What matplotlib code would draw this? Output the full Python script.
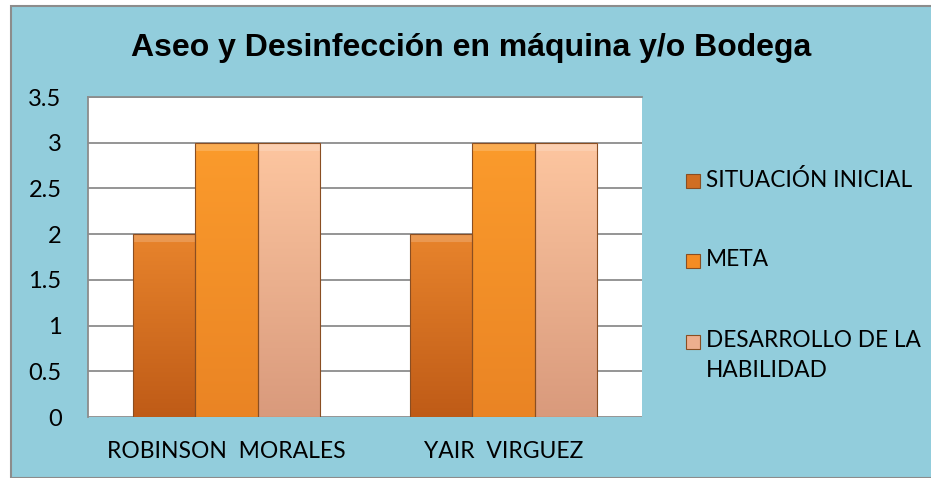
import matplotlib
matplotlib.use("Agg")
import matplotlib.pyplot as plt
import numpy as np
from matplotlib.patches import Rectangle
from matplotlib.colors import LinearSegmentedColormap

categories = ["ROBINSON  MORALES", "YAIR  VIRGUEZ"]
series_names = ["SITUACIÓN INICIAL", "META", "DESARROLLO DE LA\nHABILIDAD"]
situacion_inicial = [2, 2]
meta = [3, 3]
desarrollo = [3, 3]
yticks = [0, 0.5, 1, 1.5, 2, 2.5, 3, 3.5]
ytick_labels = ["0", "0.5", "1", "1.5", "2", "2.5", "3", "3.5"]

series = [situacion_inicial, meta, desarrollo]
# gradient (top, bottom) colours per series
grads = [("#E8842C", "#BF5B17"), ("#FB9B2C", "#EA8424"), ("#FDC6A0", "#D99A7C")]
solid = ["#D06E22", "#F48C24", "#EDAF8E"]

W, H = 931, 478
fig = plt.figure(figsize=(W / 100, H / 100), dpi=100)
fig.patch.set_facecolor("white")
bg = "#92CDDC"
# outer chart frame
frame = Rectangle((11 / W, 0), 1, 1 - 6 / H, transform=fig.transFigure,
                  facecolor=bg, edgecolor="#8C8C8C", linewidth=1.5, zorder=-5)
fig.patches.append(frame)

ax = fig.add_axes([88 / W, 1 - 417 / H, (642 - 88) / W, (417 - 97) / H])
ax.set_zorder(2)
ax.set_facecolor("white")
ax.set_ylim(0, 3.5)
ax.set_xlim(-0.5, 1.5)
ax.set_yticks(yticks)
ax.set_yticklabels(ytick_labels)
ax.yaxis.grid(True, color="#8C8C8C", linewidth=1.3)
ax.set_axisbelow(True)
for s in ["right", "bottom"]:
    ax.spines[s].set_visible(False)
ax.spines["left"].set_color("#8C8C8C")
ax.spines["top"].set_color("#8C8C8C")
ax.spines["left"].set_linewidth(1.3)
ax.spines["top"].set_linewidth(1.3)
ax.tick_params(axis="y", length=0, pad=19, labelsize=17)
ax.tick_params(axis="x", length=0, pad=17, labelsize=16.5)
x = np.arange(len(categories))
ax.set_xticks(x)
ax.set_xticklabels(categories)
for lab in ax.get_xticklabels() + ax.get_yticklabels():
    lab.set_family("Lato")

width = 0.225
for i, (vals, (ctop, cbot), sc) in enumerate(zip(series, grads, solid)):
    offs = (i - 1) * width
    bars = ax.bar(x + offs, vals, width, color=sc, edgecolor="#9A5A2A",
                  linewidth=0.6, label=series_names[i], zorder=3)
    cmap = LinearSegmentedColormap.from_list("g%d" % i, [cbot, ctop])
    for b in bars:
        bx, by, bw, bh = b.get_x(), b.get_y(), b.get_width(), b.get_height()
        grad = np.linspace(0, 1, 256).reshape(-1, 1)
        im = ax.imshow(grad, extent=[bx, bx + bw, by, by + bh], origin="lower",
                       cmap=cmap, aspect="auto", zorder=3.5)
        im.set_clip_path(b)
        # bevel highlight at top
        ax.add_patch(Rectangle((bx, by + bh - 0.09), bw, 0.09, facecolor="white",
                               alpha=0.18, edgecolor="none", zorder=4))
        ax.add_patch(Rectangle((bx, by), bw, bh, facecolor="none",
                               edgecolor="#8A4E22", linewidth=0.8, zorder=5))

ax.set_ylim(0, 3.5)
ax.set_xlim(-0.5, 1.5)

fig.text(0.5 + 6 / W, 1 - 48 / H, "Aseo y Desinfección en máquina y/o Bodega",
         ha="center", va="center", fontsize=23, fontweight="bold",
         family="Liberation Sans")

# legend drawn at the figure level (marker aligned to first text line)
row_y = [181, 261, 342]
for name, (ctop, cbot), sc, ry in zip(series_names, grads, solid, row_y):
    fig.patches.append(Rectangle((686 / W, 1 - (ry + 7) / H), 14 / W, 14 / H,
                                 transform=fig.transFigure, facecolor=sc,
                                 edgecolor="#8A4E22", linewidth=0.8, zorder=3))
    fig.text(706 / W, 1 - (ry - 12) / H, name, ha="left", va="top",
             fontsize=16.3, family="Lato", linespacing=1.55)

plt.savefig("out.png", dpi=100, facecolor=fig.get_facecolor())
